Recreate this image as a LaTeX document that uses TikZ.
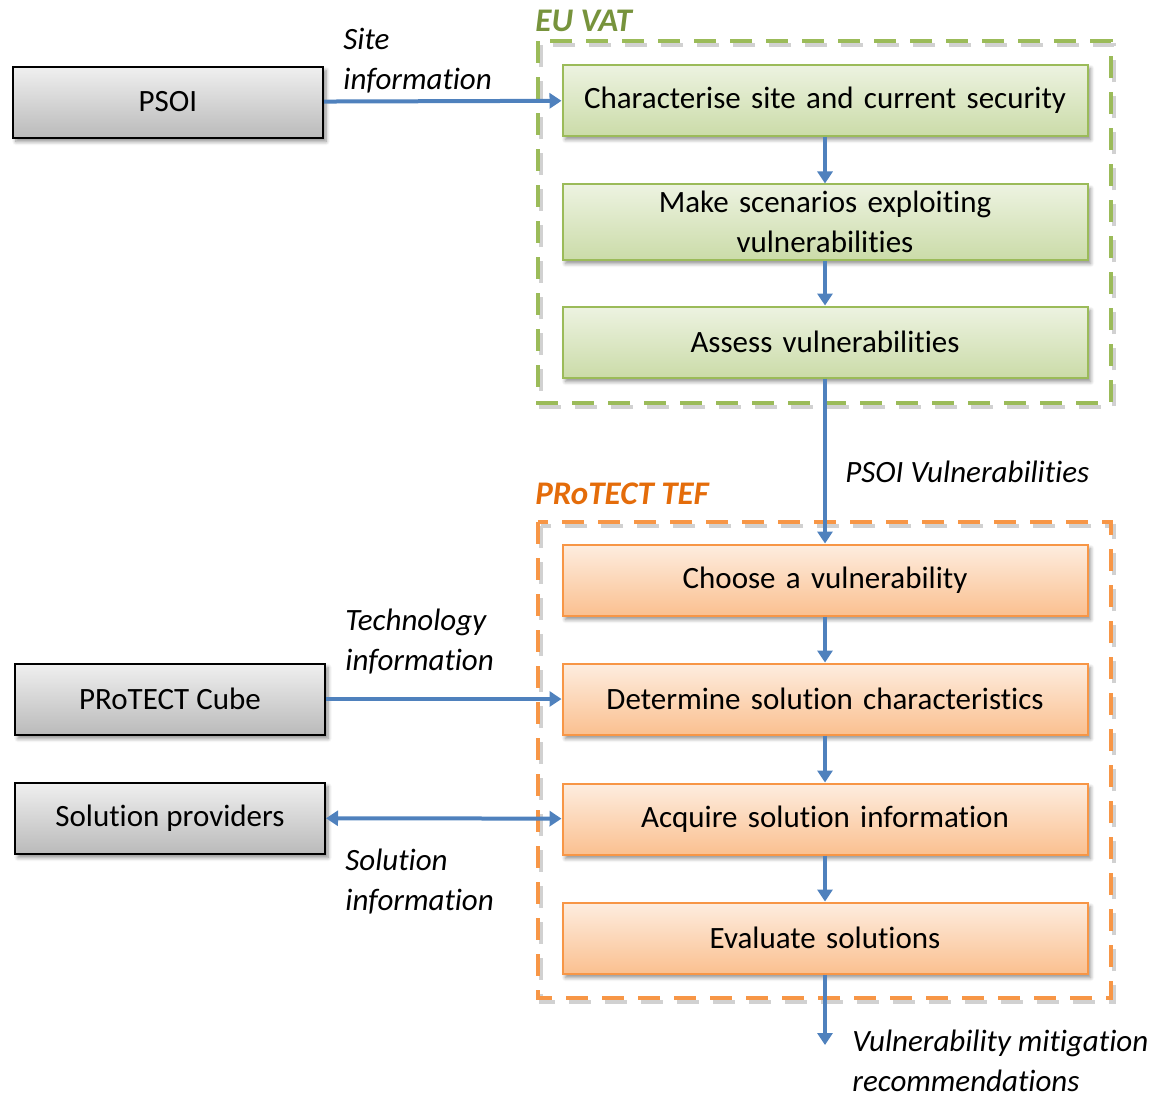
\documentclass[tikz,border=0pt]{standalone}
\usepackage{fontspec}
\setmainfont{Carlito}[Ligatures=NoCommon]
\usetikzlibrary{arrows.meta,shadows.blur}

\definecolor{flowblue}{HTML}{4F81BD}
\definecolor{vatgreen}{HTML}{9BBB59}
\definecolor{vatdark}{HTML}{77933C}
\definecolor{teforange}{HTML}{F79646}
\definecolor{tefdark}{HTML}{E46C0A}

\tikzset{
  boxshadow/.style={blur shadow={shadow xshift=1.5pt,shadow yshift=-2pt,shadow blur steps=6,shadow opacity=45}},
  sourcebox/.style={draw=black,line width=1pt,top color=black!6,bottom color=black!27,
    minimum width=155pt,minimum height=35.5pt,boxshadow},
  vatbox/.style={draw=vatgreen,line width=1pt,top color=vatgreen!18,bottom color=vatgreen!52,
    minimum width=262.5pt,minimum height=35.5pt,text width=255pt,align=center,boxshadow},
  tefbox/.style={draw=teforange,line width=1pt,top color=teforange!17,bottom color=teforange!60,
    minimum width=262.5pt,minimum height=35.5pt,text width=255pt,align=center,boxshadow},
  frameline/.style={line width=2pt,dash pattern=on 11pt off 7pt},
  flow/.style={draw=flowblue,line width=2pt,-{Triangle[length=6pt,width=7.5pt]}},
  infotext/.style={font=\fontsize{15.5}{20}\selectfont\itshape,align=left,inner sep=0pt},
  grouptitle/.style={font=\fontsize{16.5}{20}\selectfont\bfseries\itshape,inner sep=0pt}
}

\begin{document}
\begin{tikzpicture}[x=0.5pt,y=-0.5pt,every node/.style={font=\fontsize{15.5}{20}\selectfont}]
    \useasboundingbox (0,0) rectangle (1160,1100);

    % Dashed groups, with a grey copy as their shadow
    \draw[frameline,draw=black!18] (541,45) rectangle (1114,407);
    \draw[frameline,draw=vatgreen] (538,41) rectangle (1111,403);
    \draw[frameline,draw=black!18] (541,526) rectangle (1114,1002);
    \draw[frameline,draw=teforange] (538,522) rectangle (1111,998);
    \node[grouptitle,text=vatdark,anchor=west] (vattitle) at (535,21) {EU VAT};
    \node[grouptitle,text=tefdark,anchor=west] (teftitle) at (535,494) {PRoTECT TEF};

    % Outside parties
    \node[sourcebox] (psoi) at (168,102) {PSOI};
    \node[sourcebox] (cube) at (170,699) {PRoTECT Cube};
    \node[sourcebox] (providers) at (170,818) {Solution providers};

    % EU VAT steps
    \node[vatbox] (characterise) at (825,100) {Characterise site and current security};
    \node[vatbox] (scenarios) at (825,222) {Make scenarios exploiting\\vulnerabilities};
    \node[vatbox] (assess) at (825,342) {Assess vulnerabilities};

    % PRoTECT TEF steps
    \node[tefbox] (choose) at (825,580) {Choose a vulnerability};
    \node[tefbox] (determine) at (825,699) {Determine solution characteristics};
    \node[tefbox] (acquire) at (825,819) {Acquire solution information};
    \node[tefbox] (evaluate) at (825,938) {Evaluate solutions};
    \coordinate (result) at (825,1045);

    % Flows
    \draw[flow] (psoi) -- (characterise);
    \draw[flow] (characterise) -- (scenarios);
    \draw[flow] (scenarios) -- (assess);
    \draw[flow] (assess) -- (choose);
    \draw[flow] (choose) -- (determine);
    \draw[flow] (cube) -- (determine);
    \draw[flow] (determine) -- (acquire);
    \draw[flow,{Triangle[length=6pt,width=7.5pt]}-{Triangle[length=6pt,width=7.5pt]}] (providers) -- (acquire);
    \draw[flow] (acquire) -- (evaluate);
    \draw[flow] (evaluate) -- (result);

    % Flow labels
    \node[infotext,anchor=north west] (siteinfo) at (343,28) {Site\\information};
    \node[infotext,anchor=west] (psoivuln) at (845,472) {PSOI Vulnerabilities};
    \node[infotext,anchor=north west] (techinfo) at (345,609) {Technology\\information};
    \node[infotext,anchor=north west] (solinfo) at (345,849) {Solution\\information};
    \node[infotext,anchor=north west] (mitigation) at (852,1030) {Vulnerability mitigation\\recommendations};
\end{tikzpicture}
\end{document}
